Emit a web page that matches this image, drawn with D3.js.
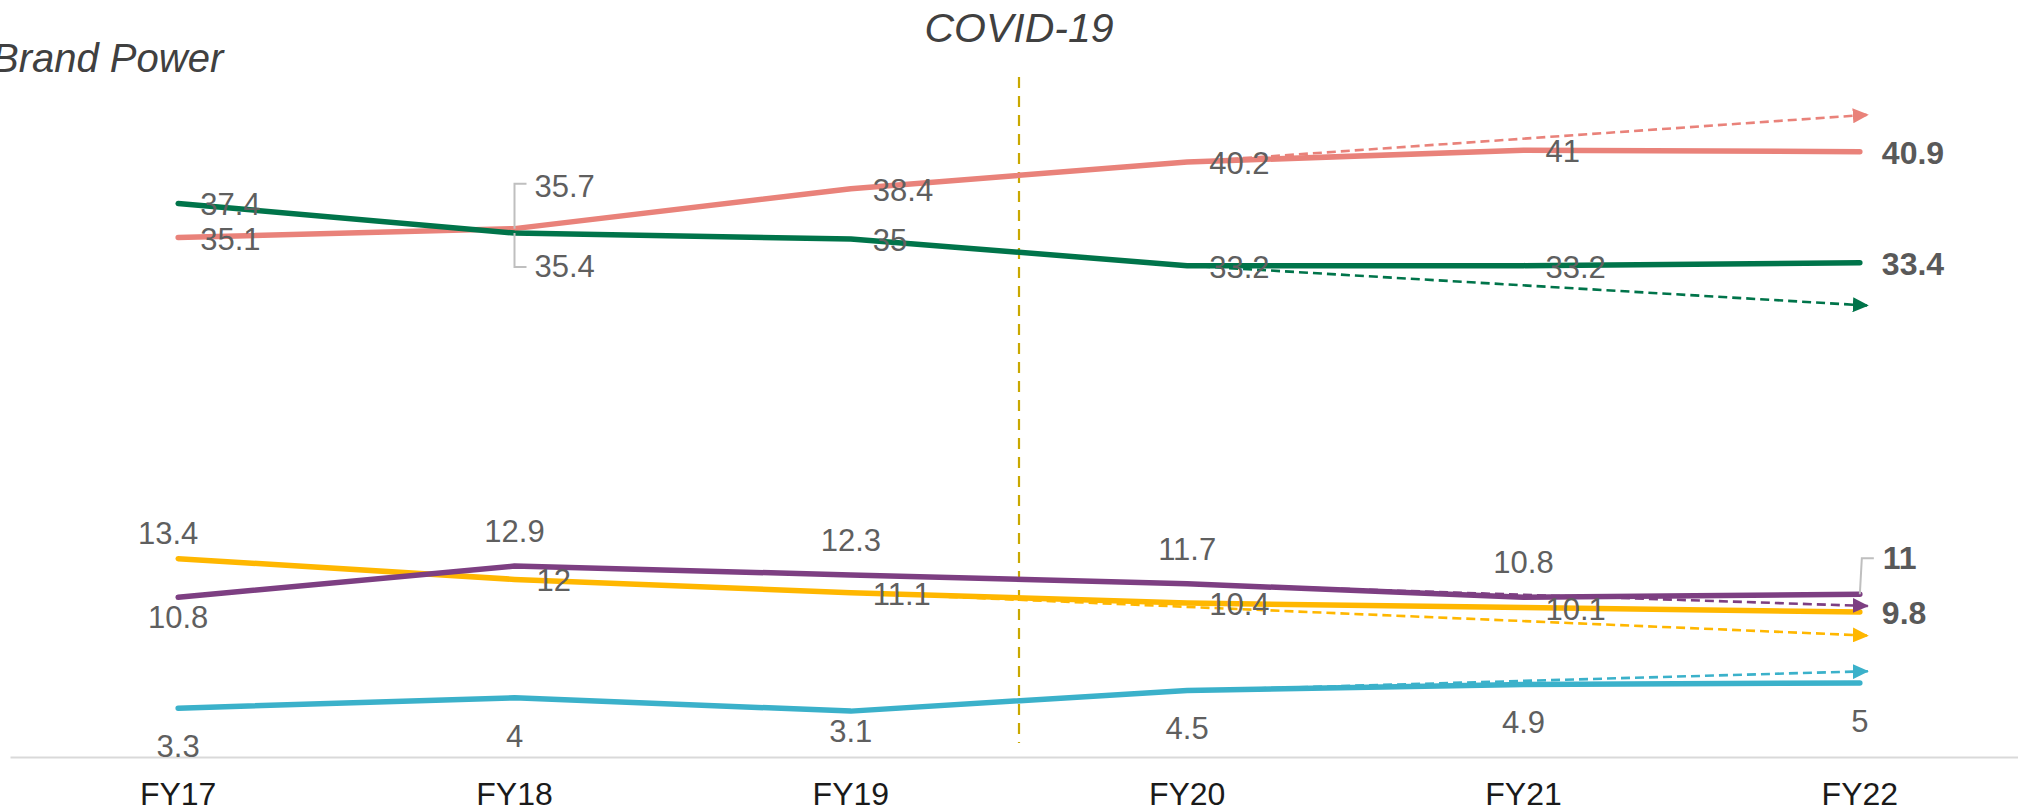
<!DOCTYPE html>
<html>
<head>
<meta charset="utf-8">
<script src="https://cdn.jsdelivr.net/npm/d3@7/dist/d3.min.js"></script>
<style>
  html, body { margin: 0; padding: 0; background: #ffffff; }
  svg { display: block; font-family: "Liberation Sans", Arial, sans-serif; }
</style>
</head>
<body>
<svg id="chart" width="2018" height="812"></svg>
<script>
// ---------- data ----------
const categories = ["FY17", "FY18", "FY19", "FY20", "FY21", "FY22"];
const seriesNames = ["Red", "Green", "Yellow", "Purple", "Teal"];
const redValues    = [35.1, 35.7, 38.4, 40.2, 41, 40.9];
const greenValues  = [37.4, 35.4, 35, 33.2, 33.2, 33.4];
const yellowValues = [13.4, 12, 11.1, 10.4, 10.1, 9.8];
const purpleValues = [10.8, 12.9, 12.3, 11.7, 10.8, 11];
const tealValues   = [3.3, 4, 3.1, 4.5, 4.9, 5];
// pre-COVID trend projections (dashed arrows)
const trendStartCats = ["FY20", "FY20", "FY19", "FY20", "FY20"];
const trendStartVals = [40.2, 33.2, 11.1, 11.7, 4.5];
const trendEndVals   = [43.4, 30.5, 8.2, 10.2, 5.8];
const titleText = "Brand Power";
const eventLabel = "COVID-19";

// ---------- styles / layout ----------
const colors = ["#E9827A", "#00744A", "#FFB700", "#7D3F82", "#3BB1CA"];
const labelPlacements = [
  ["right", "leaderUp", "right", "right", "right", "right"],
  ["right", "leaderDown", "right", "right", "right", "right"],
  ["aboveNear", "right", "right", "right", "right", "right"],
  ["below", "above", "above", "above", "above", "leaderRight"],
  ["belowFar", "belowFar", "below", "belowFar", "belowFar", "belowFar"]
];
const boldLast = [true, true, true, true, false];

const svg = d3.select("#chart");

const x = d3.scaleBand().domain(categories).range([10, 2028]).paddingInner(0).paddingOuter(0);
const cx = c => x(c) + x.bandwidth() / 2;
const y = d3.scaleLinear().domain([0, 50]).range([757, 17]);

const allValues = [redValues, greenValues, yellowValues, purpleValues, tealValues];

// axis
const axis = d3.axisBottom(x).tickSize(0).tickPadding(25);
const gAxis = svg.append("g").attr("transform", `translate(0,${y(0)})`).call(axis);
gAxis.select(".domain").attr("stroke", "#D9D9D9").attr("stroke-width", 2);
gAxis.selectAll(".tick text")
  .attr("font-size", 32)
  .attr("fill", "#1A1A1A")
  .attr("font-family", "Liberation Sans, Arial, sans-serif");

// title
svg.append("text")
  .attr("x", -8).attr("y", 72)
  .attr("font-size", 40).attr("font-style", "italic")
  .attr("fill", "#404040")
  .text(titleText);

// COVID line
const covidX = x("FY20");
svg.append("line")
  .attr("x1", covidX).attr("x2", covidX)
  .attr("y1", 77).attr("y2", 743)
  .attr("stroke", "#C9A800").attr("stroke-width", 2.2)
  .attr("stroke-dasharray", "11,8");
svg.append("text")
  .attr("x", covidX).attr("y", 42)
  .attr("text-anchor", "middle")
  .attr("font-size", 41).attr("font-style", "italic")
  .attr("fill", "#404040")
  .text(eventLabel);

// markers
const defs = svg.append("defs");
colors.forEach((c, i) => {
  defs.append("marker")
    .attr("id", "arrow" + i)
    .attr("viewBox", "0 0 16 15")
    .attr("refX", 16).attr("refY", 7.5)
    .attr("markerWidth", 16).attr("markerHeight", 15)
    .attr("markerUnits", "userSpaceOnUse")
    .attr("orient", "auto")
    .append("path")
    .attr("d", "M0,0 L16,7.5 L0,15 Z")
    .attr("fill", c);
});

// solid lines
const line = d3.line().x((d, i) => cx(categories[i])).y(d => y(d));
allValues.forEach((vals, i) => {
  svg.append("path")
    .datum(vals)
    .attr("d", line)
    .attr("fill", "none")
    .attr("stroke", colors[i])
    .attr("stroke-width", 5.5)
    .attr("stroke-linecap", "round")
    .attr("stroke-linejoin", "round");
});

// dashed trend arrows
const lastCat = categories[categories.length - 1];
allValues.forEach((vals, i) => {
  svg.append("line")
    .attr("x1", cx(trendStartCats[i]))
    .attr("y1", y(trendStartVals[i]))
    .attr("x2", cx(lastCat) + 9)
    .attr("y2", y(trendEndVals[i]))
    .attr("stroke", colors[i])
    .attr("stroke-width", 2.6)
    .attr("stroke-dasharray", "9,5")
    .attr("marker-end", `url(#arrow${i})`);
});

// labels
const gLab = svg.append("g");
const labelFont = 31;
const boldFont = 32;
const labelColor = "#5F5F5F";
const leaderColor = "#BFBFBF";
function addLabel(px, py, txt, anchor, bold) {
  gLab.append("text")
    .attr("x", px).attr("y", py)
    .attr("text-anchor", anchor)
    .attr("font-size", bold ? boldFont : labelFont)
    .attr("font-weight", bold ? "bold" : "normal")
    .attr("fill", bold ? "#595959" : labelColor)
    .text(txt);
}
function leader(points) {
  gLab.append("path")
    .attr("d", d3.line()(points))
    .attr("fill", "none")
    .attr("stroke", leaderColor)
    .attr("stroke-width", 2);
}
allValues.forEach((vals, si) => {
  vals.forEach((v, j) => {
    const px = cx(categories[j]);
    const py = y(v);
    const bold = boldLast[si] && j === vals.length - 1;
    const txt = String(v);
    switch (labelPlacements[si][j]) {
      case "right": addLabel(px + 22, py + 12, txt, "start", bold); break;
      case "above": addLabel(px, py - 24, txt, "middle", bold); break;
      case "aboveNear": addLabel(px - 10, py - 15, txt, "middle", bold); break;
      case "below": addLabel(px, py + 31, txt, "middle", bold); break;
      case "belowFar": addLabel(px, py + 49, txt, "middle", bold); break;
      case "leaderUp":
        leader([[px, py], [px, py - 45], [px + 12, py - 45]]);
        addLabel(px + 20, py - 32, txt, "start", bold); break;
      case "leaderDown":
        leader([[px, py], [px, py + 34], [px + 12, py + 34]]);
        addLabel(px + 20, py + 44, txt, "start", bold); break;
      case "leaderRight":
        leader([[px, py], [px + 2, py - 36], [px + 14, py - 36]]);
        addLabel(px + 23, py - 25, txt, "start", bold); break;
    }
  });
});
</script>
</body>
</html>
